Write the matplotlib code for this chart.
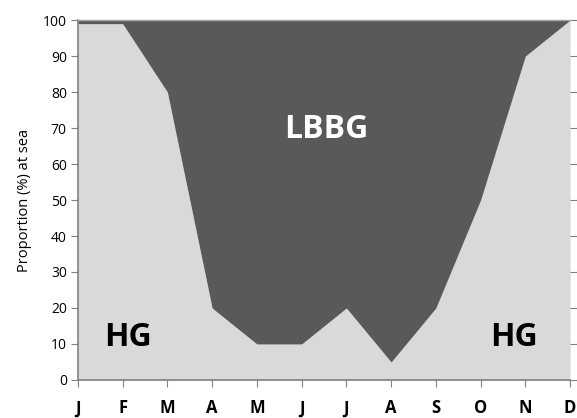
import matplotlib
matplotlib.use("Agg")
import matplotlib.pyplot as plt
import numpy as np

months = ["J", "F", "M", "A", "M", "J", "J", "A", "S", "O", "N", "D"]
hg_values = [99, 99, 80, 20, 10, 10, 20, 5, 20, 50, 90, 100]
y_ticks = [0, 10, 20, 30, 40, 50, 60, 70, 80, 90, 100]

plt.rcParams['font.family'] = ['Open Sans', 'DejaVu Sans']

fig = plt.figure(figsize=(5.77, 4.18), dpi=100)
ax = fig.add_axes([0.135, 0.091, 0.853, 0.861])

x = np.arange(len(months))
ax.fill_between(x, 0, hg_values, color="#d9d9d9", linewidth=0)
ax.fill_between(x, hg_values, 100, color="#595959", linewidth=0)

ax.set_xlim(0, len(months) - 1)
ax.set_ylim(0, 100)
ax.set_xticks(x)
ax.set_xticklabels(months, fontweight="bold", fontsize=12)
ax.set_yticks(y_ticks)
ax.tick_params(axis="y", labelsize=10, length=5, color="#808080", pad=3,
               right=True, labelright=False)
ax.tick_params(axis="x", length=5, color="#808080", pad=9)
ax.set_ylabel("Proportion (%) at sea", fontsize=10.5, labelpad=8)

for s in ["left", "bottom"]:
    ax.spines[s].set_color("#808080")
    ax.spines[s].set_linewidth(1.2)
ax.spines["right"].set_visible(False)
ax.spines["top"].set_color("#a6a6a6")
ax.spines["top"].set_linewidth(1.0)

ax.text(5.56, 69.5, "LBBG", color="white", fontsize=23, fontweight="bold", ha="center", va="center")
ax.text(1.11, 11.8, "HG", color="black", fontsize=23, fontweight="bold", ha="center", va="center")
ax.text(9.75, 11.8, "HG", color="black", fontsize=23, fontweight="bold", ha="center", va="center")

fig.savefig("out.png", dpi=100)
